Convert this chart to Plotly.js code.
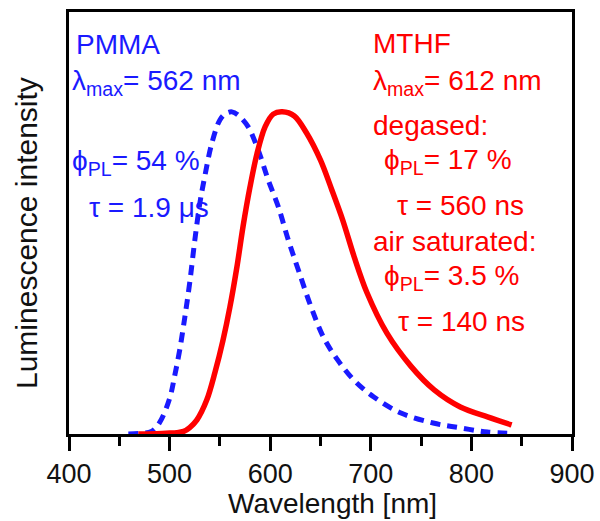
<!DOCTYPE html>
<html>
<head>
<meta charset="utf-8">
<script src="https://cdn.plot.ly/plotly-3.0.1.min.js"></script>
<style>html,body{margin:0;padding:0;background:#fff;}#chart{width:600px;height:521px;}</style>
</head>
<body>
<div id="chart"></div>
<script>
// PMMA (blue dashed) emission
const pmmaWavelength = [459, 470, 482, 490, 500, 505, 510, 515, 520, 525, 530, 535, 542, 550, 556, 562, 568, 578, 588, 598, 608, 618, 628, 640, 653, 667, 683, 703, 730, 762, 789, 816, 840];
const pmmaIntensity  = [0, 0.002, 0.008, 0.035, 0.11, 0.18, 0.26, 0.36, 0.47, 0.60, 0.715, 0.80, 0.903, 0.975, 0.995, 1.0, 0.99, 0.954, 0.882, 0.789, 0.706, 0.602, 0.509, 0.40, 0.30, 0.23, 0.168, 0.115, 0.065, 0.034, 0.019, 0.006, 0.002];
// MTHF (red solid) emission
const mthfWavelength = [469, 485, 500, 507, 514, 520, 527, 537, 545, 553, 560, 567, 573, 580, 587, 595, 603, 612, 624, 636, 650, 661, 672, 684, 696, 716, 740, 763, 789, 816, 840];
const mthfIntensity  = [0, 0.001, 0.003, 0.004, 0.008, 0.02, 0.043, 0.106, 0.19, 0.29, 0.395, 0.52, 0.644, 0.768, 0.872, 0.954, 0.993, 1.0, 0.987, 0.935, 0.85, 0.76, 0.665, 0.545, 0.44, 0.313, 0.21, 0.137, 0.084, 0.053, 0.028];

const xTickVals = [400, 500, 600, 700, 800, 900];
const xTickText = ['400', '500', '600', '700', '800', '900'];

const xTitle = 'Wavelength [nm]';
const yTitle = 'Luminescence intensity';
const pmmaLabels = ['PMMA', '&#955;<sub>max</sub>= 562 nm', '&#981;<sub>PL</sub>= 54 %', '&#964; = 1.9 &#956;s'];
const mthfLabels = ['MTHF', '&#955;<sub>max</sub>= 612 nm', 'degased:', '&#981;<sub>PL</sub>= 17 %', '&#964; = 560 ns', 'air saturated:', '&#981;<sub>PL</sub>= 3.5 %', '&#964; = 140 ns'];

const BLUE = '#1a1aff';
const RED = '#ff0000';
const INK = '#111111';
const FONT = 'Liberation Sans, Arial, sans-serif';

const traces = [
  {x: pmmaWavelength, y: pmmaIntensity, mode: 'lines', line: {color: BLUE, width: 5, dash: '10px,7px', shape: 'spline', smoothing: 1}, hoverinfo: 'skip'},
  {x: mthfWavelength, y: mthfIntensity, mode: 'lines', line: {color: RED, width: 5.5, shape: 'spline', smoothing: 0.9}, hoverinfo: 'skip'}
];

// pixel helpers for annotation placement (plot area 69..572 x 12..434)
const L = 69, R = 572, T = 12, B = 434;
const px = v => (v - L) / (R - L);
const py = v => (B - v) / (B - T);

const pmmaPos = [[74, 45], [70, 82], [70, 162], [87, 207]];
const mthfPos = [[371, 43], [371, 82], [371, 125], [382, 161], [395, 205], [371, 242], [382, 277], [396, 322]];

const annotations = [];
pmmaLabels.forEach((t, i) => annotations.push({text: t, xref: 'paper', yref: 'paper', x: px(pmmaPos[i][0]), y: py(pmmaPos[i][1]), xanchor: 'left', yanchor: 'middle', showarrow: false, font: {family: FONT, size: 28, color: BLUE}}));
mthfLabels.forEach((t, i) => annotations.push({text: t, xref: 'paper', yref: 'paper', x: px(mthfPos[i][0]), y: py(mthfPos[i][1]), xanchor: 'left', yanchor: 'middle', showarrow: false, font: {family: FONT, size: 28, color: RED}}));
annotations.push({text: yTitle, xref: 'paper', yref: 'paper', x: px(26), y: py(233), xanchor: 'center', yanchor: 'middle', textangle: -90, showarrow: false, font: {family: FONT, size: 30, color: INK}});
annotations.push({text: xTitle, xref: 'paper', yref: 'paper', x: px(332), y: py(503), xanchor: 'center', yanchor: 'middle', showarrow: false, font: {family: FONT, size: 28, color: INK}});

const layout = {
  width: 600, height: 521,
  margin: {l: 69, r: 28, t: 12, b: 87},
  paper_bgcolor: '#fff', plot_bgcolor: '#fff',
  showlegend: false,
  font: {family: FONT, color: INK},
  xaxis: {
    range: [400, 900], tickvals: xTickVals, ticktext: xTickText,
    ticks: 'outside', ticklen: 14, tickwidth: 3, tickcolor: '#000',
    minor: {dtick: 50, tick0: 0, ticks: 'outside', ticklen: 9, tickwidth: 3, tickcolor: '#000'},
    showline: true, linewidth: 3, linecolor: '#000', mirror: true,
    showgrid: false, zeroline: false,
    tickfont: {family: FONT, size: 27, color: INK}
  },
  yaxis: {
    range: [0, 1.31], showticklabels: false, ticks: '',
    showline: true, linewidth: 3, linecolor: '#000', mirror: true,
    showgrid: false, zeroline: false
  },
  annotations: annotations
};

Plotly.newPlot('chart', traces, layout, {displayModeBar: false, staticPlot: true});
</script>
</body>
</html>
